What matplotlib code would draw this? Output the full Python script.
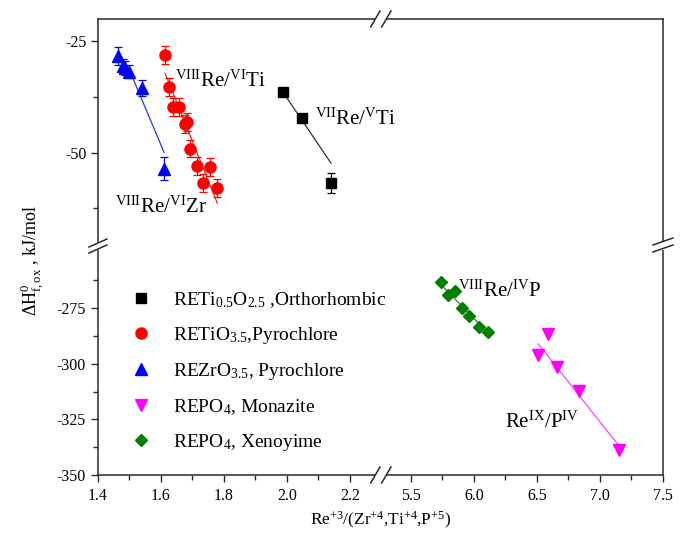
import numpy as np
import matplotlib
matplotlib.use("Agg")
import matplotlib.pyplot as plt
from matplotlib.lines import Line2D
from matplotlib.patches import Rectangle

plt.rcParams['font.family'] = ['Liberation Serif', 'DejaVu Serif']
plt.rcParams['mathtext.fontset'] = 'custom'
plt.rcParams['mathtext.rm'] = 'Liberation Serif'
plt.rcParams['mathtext.it'] = 'Liberation Serif:italic'
plt.rcParams['mathtext.bf'] = 'Liberation Serif:bold'
plt.rcParams['axes.unicode_minus'] = False

# ---- data ----
ortho_x = [1.988, 2.047, 2.140]
ortho_y = [-36.5, -42.3, -56.8]
ortho_err = [0.8, 0.8, 2.2]
ortho_fit_x = [1.988, 2.140]
ortho_fit_y = [-36.5, -52.4]

pyroti_x = [1.613, 1.625, 1.639, 1.657, 1.676, 1.682, 1.692, 1.715, 1.734, 1.756, 1.777]
pyroti_y = [-28.1, -35.2, -39.8, -39.8, -43.6, -43.1, -49.1, -53.0, -56.8, -53.3, -58.0]
pyroti_err = [2.0, 2.0, 2.0, 2.0, 2.0, 2.0, 2.0, 2.0, 2.0, 2.0, 2.0]
pyroti_fit_x = [1.613, 1.779]
pyroti_fit_y = [-32.2, -61.4]

pyrozr_x = [1.465, 1.478, 1.487, 1.499, 1.541, 1.610]
pyrozr_y = [-28.3, -30.5, -31.0, -31.8, -35.6, -53.6]
pyrozr_err = [2.0, 1.5, 1.5, 1.5, 1.8, 2.5]
pyrozr_fit_x = [1.500, 1.610]
pyrozr_fit_y = [-31.5, -50.0]

mona_x = [6.590, 6.506, 6.656, 6.836, 7.151]
mona_y = [-286.6, -295.9, -301.2, -312.0, -338.7]
mona_fit_x = [6.510, 7.145]
mona_fit_y = [-291.0, -336.5]

xeno_x = [5.738, 5.796, 5.849, 5.902, 5.963, 6.040, 6.113]
xeno_y = [-263.4, -268.9, -267.4, -274.9, -278.4, -283.5, -285.7]
xeno_fit_x = [5.74, 6.11]
xeno_fit_y = [-264.5, -286.0]

labels = [r'RETi$_{0.5}$O$_{2.5}$ ,Orthorhombic',
          r'RETiO$_{3.5}$,Pyrochlore',
          r'REZrO$_{3.5}$, Pyrochlore',
          r'REPO$_4$, Monazite',
          r'REPO$_4$, Xenoyime']

xlim_left = (1.4, 2.297)
xlim_right = (5.258, 7.5)
ylim_top = (-71.0, -20.0)
ylim_bot = (-350.0, -247.0)

# ---- layout in pixels ----
W, H = 688, 540
L, R, T, B = 98, 663, 19, 475
MX, MY = 380.5, 246

def fx(px):
    return px / W

def fy(py):
    return 1 - py / H

fig = plt.figure(figsize=(W / 100, H / 100), dpi=100)
ax_tl = fig.add_axes([fx(L), fy(MY), fx(MX) - fx(L), fy(T) - fy(MY)])
ax_tr = fig.add_axes([fx(MX), fy(MY), fx(R) - fx(MX), fy(T) - fy(MY)])
ax_bl = fig.add_axes([fx(L), fy(B), fx(MX) - fx(L), fy(MY) - fy(B)])
ax_br = fig.add_axes([fx(MX), fy(B), fx(R) - fx(MX), fy(MY) - fy(B)])

spine_col = '#2a2a2a'
for ax, xl, yl in [(ax_tl, xlim_left, ylim_top), (ax_tr, xlim_right, ylim_top),
                   (ax_bl, xlim_left, ylim_bot), (ax_br, xlim_right, ylim_bot)]:
    ax.set_xlim(*xl)
    ax.set_ylim(*yl)
    ax.patch.set_alpha(0)
    for s in ax.spines.values():
        s.set_visible(False)
        s.set_linewidth(1.1)
        s.set_color(spine_col)
    ax.tick_params(which='both', direction='out', color=spine_col, width=1.0,
                   labelsize=11.5, top=False, right=False, bottom=False, left=False,
                   labelbottom=False, labelleft=False)
    ax.tick_params(which='major', length=5)
    ax.tick_params(which='minor', length=3.5)

ax_tl.spines['top'].set_visible(True)
ax_tl.spines['left'].set_visible(True)
ax_tr.spines['top'].set_visible(True)
ax_tr.spines['right'].set_visible(True)
ax_bl.spines['bottom'].set_visible(True)
ax_bl.spines['left'].set_visible(True)
ax_br.spines['bottom'].set_visible(True)
ax_br.spines['right'].set_visible(True)

# y ticks
ax_tl.set_yticks([-25, -50])
ax_tl.set_yticks([-37.5, -62.5], minor=True)
ax_tl.tick_params(which='both', left=True, labelleft=True, pad=3)
ax_bl.set_yticks([-275, -300, -325, -350])
ax_bl.set_yticks([-262.5, -287.5, -312.5, -337.5], minor=True)
ax_bl.tick_params(which='both', left=True, labelleft=True, pad=3)
ax_tr.set_yticks([])
ax_br.set_yticks([])

# x ticks
ax_bl.set_xticks([1.4, 1.6, 1.8, 2.0, 2.2])
ax_bl.set_xticks([1.5, 1.7, 1.9, 2.1], minor=True)
ax_bl.set_xticklabels(['1.4', '1.6', '1.8', '2.0', '2.2'])
ax_bl.tick_params(which='both', bottom=True, labelbottom=True, pad=4)
ax_br.set_xticks([5.5, 6.0, 6.5, 7.0, 7.5])
ax_br.set_xticks([5.75, 6.25, 6.75, 7.25], minor=True)
ax_br.set_xticklabels(['5.5', '6.0', '6.5', '7.0', '7.5'])
ax_br.tick_params(which='both', bottom=True, labelbottom=True, pad=4)
ax_tl.set_xticks([])
ax_tr.set_xticks([])

# ---- data ----
ax_tl.plot(ortho_fit_x, ortho_fit_y, color='#333333', lw=0.9, clip_on=False, zorder=2)
ax_tl.plot(pyroti_fit_x, pyroti_fit_y, color='#ff2020', lw=0.9, zorder=2)
ax_tl.plot(pyrozr_fit_x, pyrozr_fit_y, color='#3030ff', lw=0.9, zorder=2)
ax_br.plot(mona_fit_x, mona_fit_y, color='#ff40ff', lw=0.9, zorder=2)
ax_br.plot(xeno_fit_x, xeno_fit_y, color='#2a8a2a', lw=0.9, zorder=2)

ax_tl.errorbar(ortho_x, ortho_y, yerr=ortho_err, fmt='none', ecolor='black',
               elinewidth=0.9, capsize=3, capthick=0.9, zorder=3, clip_on=False)
ax_tl.errorbar(pyroti_x, pyroti_y, yerr=pyroti_err, fmt='none', ecolor='#ff0000',
               elinewidth=0.9, capsize=3, capthick=0.9, zorder=3)
ax_tl.errorbar(pyrozr_x, pyrozr_y, yerr=pyrozr_err, fmt='none', ecolor='#0000ff',
               elinewidth=0.9, capsize=3, capthick=0.9, zorder=3)

h1, = ax_tl.plot(ortho_x, ortho_y, 's', color='black', ms=7, ls='none', zorder=4, clip_on=False)
h2, = ax_tl.plot(pyroti_x, pyroti_y, 'o', color='#ff0000', ms=8, ls='none', zorder=4)
h3, = ax_tl.plot(pyrozr_x, pyrozr_y, '^', color='#0000ff', ms=8.5, ls='none', zorder=4)
h4, = ax_br.plot(mona_x, mona_y, 'v', color='#ff00ff', ms=9, ls='none', zorder=4)
h5, = ax_br.plot(xeno_x, xeno_y, 'D', color='#008000', ms=6.5, ls='none', zorder=4)

# ---- annotations ----
ann = 15
ax_tl.text(1.644, -35.3, r'$^{\rm VIII}$Re/$^{\rm VI}$Ti', fontsize=ann, va='baseline')
ax_tl.text(1.454, -63.6, r'$^{\rm VIII}$Re/$^{\rm VI}$Zr', fontsize=ann, va='baseline')
ax_tl.text(2.089, -43.8, r'$^{\rm VII}$Re/$^{\rm V}$Ti', fontsize=ann, va='baseline')
ax_br.text(5.873, -269.8, r'$^{\rm VIII}$Re/$^{\rm IV}$P', fontsize=ann, va='baseline')
ax_br.text(6.246, -328.8, r'Re$^{\rm IX}$/P$^{\rm IV}$', fontsize=ann, va='baseline')

# ---- legend ----
fig.legend([h1, h2, h3, h4, h5], labels, loc='upper left',
           bbox_to_anchor=(fx(131), fy(290)), frameon=False, fontsize=14,
           handlelength=1.0, handletextpad=1.15, labelspacing=0.78, borderpad=0,
           borderaxespad=0)

# ---- axis labels ----
fig.text(fx(381), fy(520), r'Re$^{+3}$/(Zr$^{+4}$,Ti$^{+4}$,P$^{+5}$)',
         ha='center', va='center', fontsize=12.5)
fig.text(fx(32), fy(260), r'$\Delta$H$^{0}_{\rm f,ox}$ , kJ/mol',
         ha='center', va='center', rotation=90, fontsize=13)

# ---- axis break marks ----
def brk(x0, y0, x1, y1):
    fig.add_artist(Line2D([fx(x0), fx(x1)], [fy(y0), fy(y1)], color=spine_col,
                          lw=1.1, transform=fig.transFigure))

def gap(x, y, w, h):
    fig.add_artist(Rectangle((fx(x), fy(y + h)), w / W, h / H, facecolor='white',
                             edgecolor='none', transform=fig.transFigure))

gap(375, T - 3, 11, 6)
brk(370.7, T + 8, 380, T - 8)
brk(381.7, T + 8, 391, T - 8)
gap(375, B - 3, 11, 6)
brk(370.7, B + 8, 380, B - 8)
brk(381.7, B + 8, 391, B - 8)
gap(L - 3, MY - 4, 6, 8)
brk(L - 9, MY + 7, L + 9, MY - 1)
brk(L - 9, MY + 1, L + 9, MY - 7)
gap(R - 3, MY - 4, 6, 8)
brk(R - 10, MY + 6, R + 10, MY - 1)
brk(R - 10, MY - 1, R + 10, MY - 8)

fig.savefig('out.png', dpi=100)
